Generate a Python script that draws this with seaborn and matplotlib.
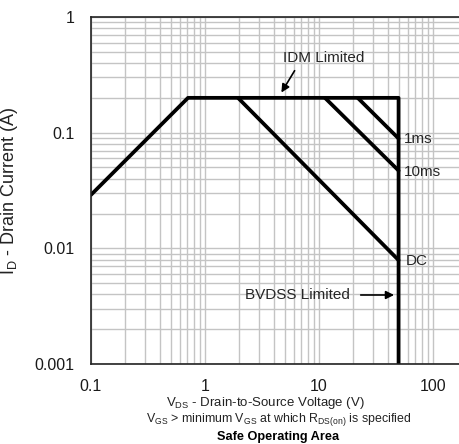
import matplotlib
matplotlib.use('Agg')
import matplotlib.pyplot as plt
import matplotlib.ticker as mticker
import seaborn as sns
import numpy as np

# Safe operating area curves (V, A)
envelope_v = [0.1, 0.71, 50, 50]
envelope_i = [0.029, 0.2, 0.2, 0.001]
dc_v = [1.95, 50]
dc_i = [0.2, 0.0079]
ms10_v = [11.3, 50]
ms10_i = [0.2, 0.047]
ms1_v = [21.9, 50]
ms1_i = [0.2, 0.089]

x_ticks = [0.1, 1, 10, 100]
x_labels = ['0.1', '1', '10', '100']
y_ticks = [0.001, 0.01, 0.1, 1]
y_labels = ['0.001', '0.01', '0.1', '1']

sns.set_style('white')
plt.rcParams['font.family'] = ['Liberation Sans', 'DejaVu Sans']
plt.rcParams['mathtext.fontset'] = 'custom'
plt.rcParams['mathtext.rm'] = 'Liberation Sans'

fig = plt.figure(figsize=(4.6, 4.44), dpi=100)
ax = fig.add_axes([91 / 460, 1 - 364 / 444, 1 - 91 / 460, (364 - 17) / 444])

for xs, ys in [(envelope_v, envelope_i), (dc_v, dc_i), (ms10_v, ms10_i), (ms1_v, ms1_i)]:
    sns.lineplot(x=xs, y=ys, ax=ax, color='black', lw=2.7, sort=False, estimator=None)

ax.set_xscale('log')
ax.set_yscale('log')
ax.set_xlim(0.1, 173)
ax.set_ylim(0.001, 1)

ax.xaxis.set_major_locator(mticker.FixedLocator(x_ticks))
ax.xaxis.set_major_formatter(mticker.FixedFormatter(x_labels))
ax.yaxis.set_major_locator(mticker.FixedLocator(y_ticks))
ax.yaxis.set_major_formatter(mticker.FixedFormatter(y_labels))
ax.xaxis.set_minor_locator(mticker.LogLocator(base=10, subs=np.arange(2, 10)))
ax.yaxis.set_minor_locator(mticker.LogLocator(base=10, subs=np.arange(2, 10)))
ax.xaxis.set_minor_formatter(mticker.NullFormatter())
ax.yaxis.set_minor_formatter(mticker.NullFormatter())
ax.tick_params(which='both', length=0, labelsize=11.5, colors='#1a1a1a')
ax.tick_params(axis='x', pad=11)
ax.tick_params(axis='y', pad=12)

ax.grid(which='both', color='#c4c4c4', lw=1.0)
ax.set_axisbelow(True)
for s in ['left', 'bottom', 'top']:
    ax.spines[s].set_color('#222222')
    ax.spines[s].set_linewidth(1.2)
ax.spines['right'].set_visible(False)

ax.set_ylabel(r'I$_\mathregular{D}$ - Drain Current (A)', fontsize=13, labelpad=10, color='#222222')

# annotations
ax.text(4.8, 0.44, 'IDM Limited', fontsize=11, va='center', ha='left')
ax.annotate('', xy=(4.55, 0.212), xytext=(6.3, 0.36),
            arrowprops=dict(arrowstyle='-|>', color='black', lw=1.2, mutation_scale=12))
ax.text(2.24, 0.00395, 'BVDSS Limited', fontsize=11, va='center', ha='left')
ax.annotate('', xy=(48.3, 0.00395), xytext=(22, 0.00395),
            arrowprops=dict(arrowstyle='-|>', color='black', lw=1.2, mutation_scale=12))
ax.text(56, 0.089, '1ms', fontsize=11, va='center', ha='left')
ax.text(56, 0.046, '10ms', fontsize=11, va='center', ha='left')
ax.text(58, 0.0077, 'DC', fontsize=11, va='center', ha='left')

fig.text(265 / 460, 1 - 403 / 444, r'V$_\mathregular{DS}$ - Drain-to-Source Voltage (V)',
         ha='center', va='center', fontsize=9.5, color='#222222')
fig.text(279 / 460, 1 - 419 / 444,
         r'V$_\mathregular{GS}$ > minimum V$_\mathregular{GS}$ at which R$_\mathregular{DS(on)}$ is specified',
         ha='center', va='center', fontsize=8.9, color='#222222')
fig.text(278 / 460, 1 - 437 / 444, 'Safe Operating Area', ha='center', va='center',
         fontsize=9.2, fontweight='bold', color='black')

fig.savefig('out.png', dpi=100)
